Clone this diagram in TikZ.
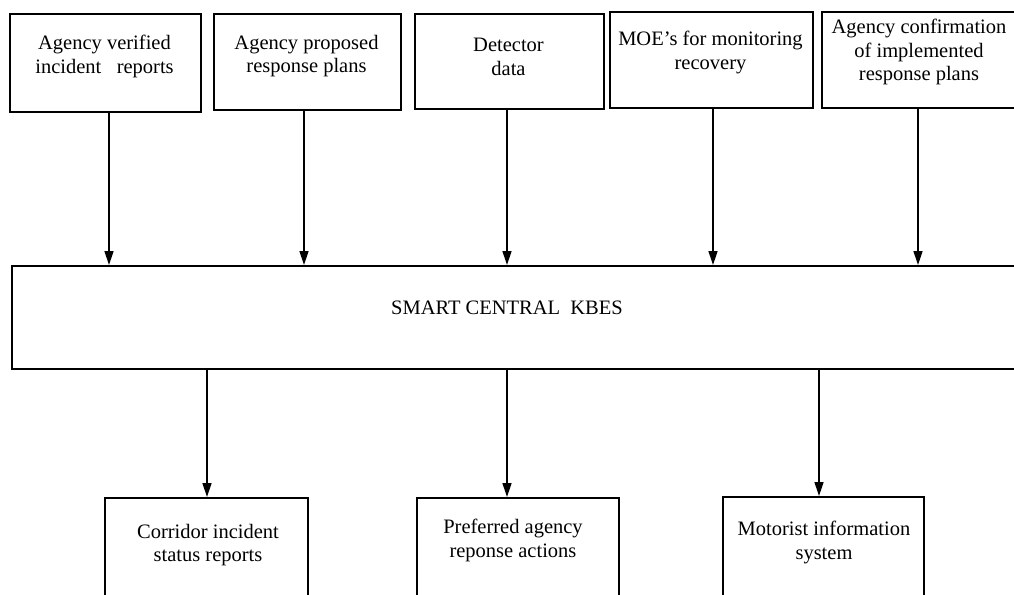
\documentclass[tikz,border=0pt]{standalone}
\usepackage{fontspec}
\setmainfont{Liberation Serif}
\usetikzlibrary{arrows.meta}
\begin{document}
\begin{tikzpicture}[x=1pt,y=-1pt,
  box/.style={draw, line width=1.8pt, rectangle, anchor=north west, inner sep=0pt},
  lbl/.style={anchor=north, align=center, inner sep=0pt, font=\fontsize{20.5}{23.5}\selectfont},
  flow/.style={line width=1.4pt, -{Triangle[width=9pt,length=14pt]}}]
\useasboundingbox (0,0) rectangle (1014,594);
\clip (0,0) rectangle (1014,594);
% input boxes
\node[box, minimum width=191pt, minimum height=98pt] (b1) at (9,13) {};
\node[box, minimum width=187pt, minimum height=96pt] (b2) at (213,13) {};
\node[box, minimum width=189pt, minimum height=95pt] (b3) at (414,13) {};
\node[box, minimum width=203pt, minimum height=96pt] (b4) at (609,11) {};
\node[box, minimum width=196pt, minimum height=96pt] (b5) at (821,11) {};
% central box
\node[box, minimum width=1010pt, minimum height=103pt] (kb) at (11,265) {};
% output boxes
\node[box, minimum width=203pt, minimum height=110pt] (c1) at (104,497) {};
\node[box, minimum width=202pt, minimum height=110pt] (c2) at (416,497) {};
\node[box, minimum width=201pt, minimum height=110pt] (c3) at (722,496) {};
% texts
\node[lbl] (t1) at (104.5,35) {Agency verified\\incident\ \ \ reports};
\node[lbl] (t2) at (306.5,35) {Agency proposed\\response plans};
\node[lbl] (t3) at (508.5,38) {Detector\\data};
\node[lbl] (t4) at (710.5,31) {MOE's for monitoring\\recovery};
\node[lbl] (t5) at (919,19) {Agency confirmation\\of implemented\\response plans};
\node[anchor=base, inner sep=0pt, font=\fontsize{20.5}{23.5}\selectfont] (tk) at (507,314) {SMART CENTRAL\ \ KBES};
\node[lbl] (tc1) at (208,524) {Corridor incident\\status reports};
\node[lbl] (tc2) at (513,519) {Preferred agency\\reponse actions};
\node[lbl] (tc3) at (824,521) {Motorist information\\system};
% arrow columns
\coordinate (x1) at (109,0);
\coordinate (x2) at (304,0);
\coordinate (x3) at (507,0);
\coordinate (x4) at (713,0);
\coordinate (x5) at (918,0);
\coordinate (y1) at (207,0);
\coordinate (y2) at (507,0);
\coordinate (y3) at (819,0);
\draw[flow] (b1.south -| x1) -- (kb.north -| x1);
\draw[flow] (b2.south -| x2) -- (kb.north -| x2);
\draw[flow] (b3.south -| x3) -- (kb.north -| x3);
\draw[flow] (b4.south -| x4) -- (kb.north -| x4);
\draw[flow] (b5.south -| x5) -- (kb.north -| x5);
\draw[flow] (kb.south -| y1) -- (c1.north -| y1);
\draw[flow] (kb.south -| y2) -- (c2.north -| y2);
\draw[flow] (kb.south -| y3) -- (c3.north -| y3);
\end{tikzpicture}
\end{document}
